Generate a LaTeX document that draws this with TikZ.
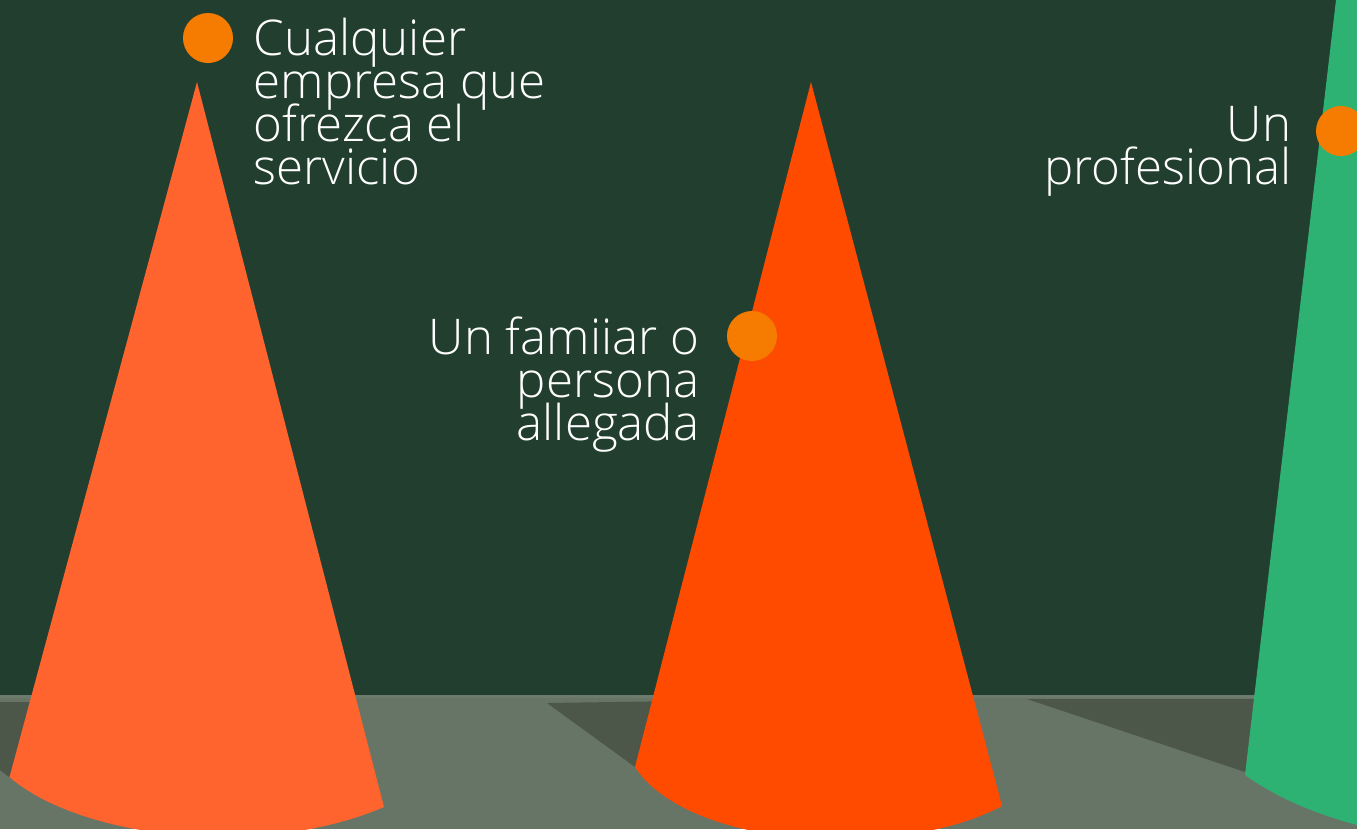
\documentclass[tikz,border=0pt]{standalone}
\usepackage{fontspec}
\setmainfont[UprightFont=* Light]{Open Sans}
\usetikzlibrary{positioning}

\definecolor{pizarra}{HTML}{223E2E}
\definecolor{suelo}{HTML}{677567}
\definecolor{sombra}{HTML}{4D5749}
\definecolor{bordesuelo}{HTML}{6D7B6D}
\definecolor{conouno}{HTML}{FF632E}
\definecolor{conodos}{HTML}{FF4B00}
\definecolor{conotres}{HTML}{2EB274}
\definecolor{punto}{HTML}{F57C00}

\newcommand{\fuenteetiqueta}{\fontsize{14}{12.2}\selectfont\lineskiplimit-20pt\relax}

\begin{document}
\begin{tikzpicture}[
    x=0.01cm, y=-0.01cm,
    dot/.style={circle, fill=punto, inner sep=0pt, minimum size=0.5cm},
    etiqueta/.style={inner sep=0pt, text=white, font=\fuenteetiqueta},
    izquierda/.style={etiqueta, align=left, anchor=base west},
    derecha/.style={etiqueta, align=right, anchor=base east}
]
\useasboundingbox (0,0) rectangle (1357,829);
\clip (0,0) rectangle (1357,829);

% Fondo y suelo
\fill[pizarra] (0,0) rectangle (1357,829);
\fill[suelo] (0,695) rectangle (1357,829);
\fill[bordesuelo] (0,695) rectangle (1357,698);

% Sombras sobre el suelo
\fill[sombra] (0,702) -- (60,702) -- (9,777) -- (0,770) -- cycle;
\fill[sombra] (547,703) -- (680,701) -- (635,767) -- cycle;
\fill[sombra] (1027,699) -- (1280,699) -- (1245,772) -- cycle;

% Conos
\fill[conouno] (197,82) -- (384,807) .. controls (260,860) and (80,838) .. (9.5,777) -- cycle;
\fill[conodos] (811,82) -- (1002,806) .. controls (900,860) and (690,850) .. (635,767) -- cycle;
\fill[conotres] (1336,0) -- (1357,0) -- (1357,825) .. controls (1320,815) and (1280,800) .. (1245,775) -- cycle;

% Puntos
\node[dot] (punto1) at (208,38) {};
\node[dot] (punto2) at (752,336) {};
\node[dot] (punto3) at (1341,131) {};

% Textos
\node[izquierda] (empresa) at (253,184) {Cualquier\\empresa que\\ofrezca el\\servicio};
\node[derecha] (familiar) at (700,440) {Un famiiar o\\persona\\allegada};
\node[derecha] (profesional) at (1292,184) {Un\\profesional};

\end{tikzpicture}
\end{document}
